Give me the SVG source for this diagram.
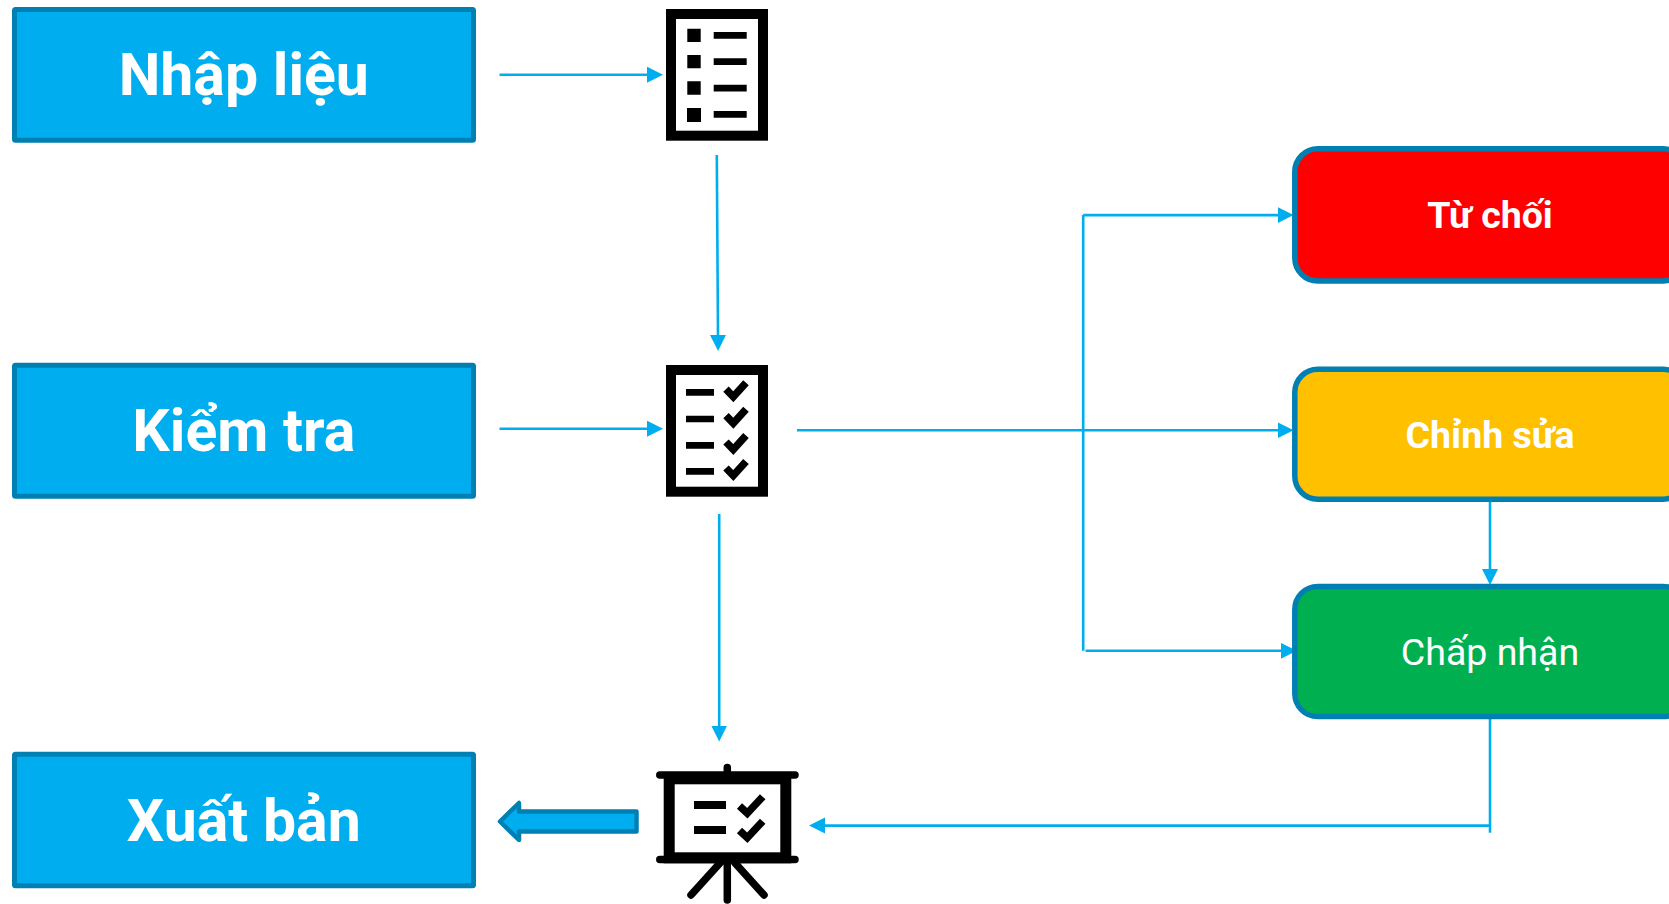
<svg xmlns="http://www.w3.org/2000/svg" width="1669" height="904" viewBox="0 0 1669 904">
<style>
text{font-family:Roboto,"Liberation Sans",sans-serif;fill:#fff;text-anchor:middle}
.big{font-size:59px;font-weight:700}
.mid{font-size:37.5px;font-weight:700}
.box{fill:#00AEEF;stroke:#0080B2;stroke-width:5}
.rbox{stroke:#0080B2;stroke-width:5.5}
.cn{fill:none;stroke:#00AEEF;stroke-width:2.6}
.arr{marker-end:url(#head)}
.ic{fill:none;stroke:#000;stroke-width:10}
.chk{fill:none;stroke:#000;stroke-width:7.5}
.rnd{fill:none;stroke:#000;stroke-width:7.5;stroke-linecap:round}
</style>
<defs>
<marker id="head" markerUnits="userSpaceOnUse" markerWidth="17" markerHeight="17" refX="1" refY="8" orient="auto"><path d="M0 0L16 8L0 16Z" fill="#00AEEF"/></marker>
<g id="check"><path class="chk" d="M726 389.2L733.3 396.8L746 382.8"/></g>
</defs>
<rect width="1669" height="904" fill="#fff"/>
<g id="connectors">
<path class="cn arr" d="M499.5 74.7H648"/>
<path class="cn arr" d="M716.8 155L718 336"/>
<path class="cn arr" d="M499.5 428.7H648"/>
<path class="cn arr" d="M719.2 514V726.5"/>
<path class="cn" d="M1083.2 650.8V215.1"/>
<path class="cn arr" d="M1083.2 215.1H1278.6"/>
<path class="cn arr" d="M797 430.2H1278.6"/>
<path class="cn arr" d="M1085.5 650.8H1281.7"/>
<path class="cn arr" d="M1490 500V570"/>
<path class="cn" d="M1490 717.3V832.7"/>
<path class="cn arr" d="M1490 825.6H824"/>
<path d="M500 821.5L519 803V811.5H636.5V831.5H519V840Z" fill="#00AEEF" stroke="#0080B2" stroke-width="4.5" stroke-linejoin="round"/>
</g>
<g id="node-nhap-lieu"><rect class="box" x="14.5" y="9.5" width="459" height="130.7" rx="1"/><text class="big" x="243.8" y="95">Nhập liệu</text></g>
<g id="node-kiem-tra"><rect class="box" x="14.5" y="365.2" width="459" height="131" rx="1"/><text class="big" x="243.8" y="451">Kiểm tra</text></g>
<g id="node-xuat-ban"><rect class="box" x="14.5" y="754.3" width="459" height="131.4" rx="1"/><text class="big" x="243.8" y="840.5">Xuất bản</text></g>
<g id="node-tu-choi"><rect class="rbox" x="1294.8" y="148.8" width="391" height="132.2" rx="23" fill="#FF0000"/><text class="mid" x="1490" y="227.7">Từ chối</text></g>
<g id="node-chinh-sua"><rect class="rbox" x="1294.8" y="369.2" width="391" height="130" rx="23" fill="#FFC000"/><text class="mid" x="1490" y="448">Chỉnh sửa</text></g>
<g id="node-chap-nhan"><rect class="rbox" x="1294.8" y="586.4" width="391" height="130.2" rx="23" fill="#00B050"/><text class="mid" x="1490" y="664.7" style="font-weight:400">Chấp nhận</text></g>
<g id="icon-list">
<rect class="ic" x="671" y="14" width="92" height="121.7"/>
<path d="M687.3 28.7h13.4v13.3h-13.4zM687.3 55h13.4v13.3h-13.4zM687.3 81.3h13.4v13.4h-13.4zM687 108h14v14h-14zM713.7 32h33v6.7h-33zM713.7 58.3h33v6.7h-33zM713.7 84.7h33v6.7h-33zM713.7 111h33v6.7h-33z"/>
</g>
<g id="icon-checklist">
<rect class="ic" x="671" y="370" width="92" height="121.7"/>
<path d="M686 389h28v6.7h-28zM686 415.7h28v6.6h-28zM686 442h28v6.7h-28zM686 468h28v6.7h-28z"/>
<use href="#check"/><use href="#check" y="26.4"/><use href="#check" y="52.8"/><use href="#check" y="78.8"/>
</g>
<g id="icon-board">
<rect x="669.2" y="778.8" width="116.6" height="79" fill="none" stroke="#000" stroke-width="11"/>
<path class="rnd" d="M659.8 775H795M659.8 859.5H795M727.3 767.5V775M727.3 863V900M720 863L691 895M735 863L764 895"/>
<path d="M694 801h32v8h-32zM694 826h32v8h-32z"/>
<path class="chk" d="M739.5 806L747.3 813.3L762.7 796.7M739.5 830.5L747.3 837.8L762.7 821.2"/>
</g>
</svg>
